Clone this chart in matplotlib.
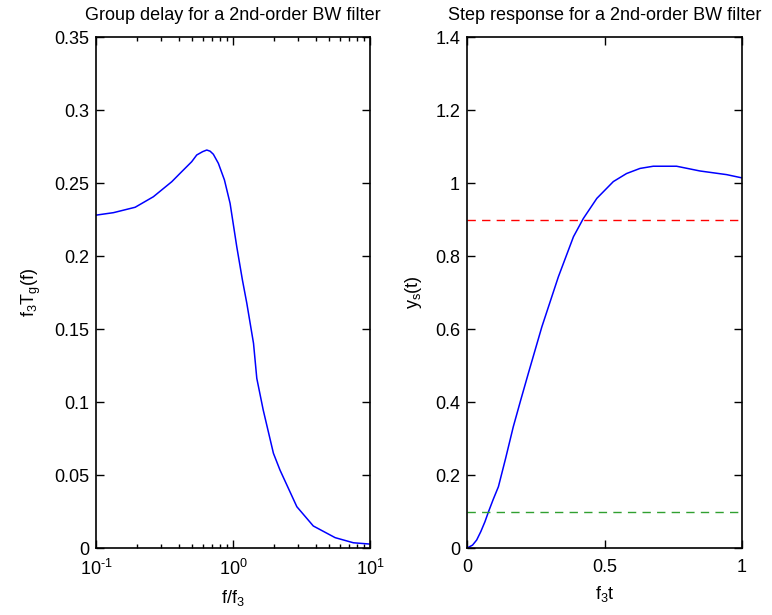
import numpy as np
import matplotlib
matplotlib.use("Agg")
import matplotlib.pyplot as plt
from matplotlib.ticker import LogLocator, NullFormatter

plt.rcParams['font.family'] = ['Liberation Sans', 'DejaVu Sans']
plt.rcParams['mathtext.fontset'] = 'custom'
plt.rcParams['mathtext.rm'] = 'Liberation Sans'
plt.rcParams['mathtext.it'] = 'Liberation Sans'
plt.rcParams['font.size'] = 13

# group delay
f_ratio = [0.1, 0.134, 0.193, 0.262, 0.357, 0.41, 0.499, 0.543, 0.60, 0.643, 0.68, 0.718,
           0.781, 0.865, 0.951, 1.064, 1.17, 1.26, 1.41, 1.49, 1.66, 1.97,
           2.20, 2.92, 3.85, 5.56, 7.55, 10.0]
group_delay = [0.228, 0.2297, 0.2334, 0.2406, 0.2509, 0.2566, 0.2646, 0.2692, 0.2715, 0.2726, 0.2718, 0.2697,
               0.2635, 0.2521, 0.2361, 0.2064, 0.1836, 0.1676, 0.1402, 0.1162, 0.0945, 0.0649,
               0.0534, 0.0283, 0.0151, 0.0071, 0.0036, 0.0027]

# step response
t_norm = [0.0, 0.02, 0.035, 0.05, 0.065, 0.078, 0.095, 0.114, 0.14, 0.168, 0.195, 0.223, 0.272,
          0.332, 0.387, 0.423, 0.472, 0.532, 0.58, 0.629, 0.677, 0.762, 0.847, 0.944, 1.0]
step_resp = [0.0, 0.008, 0.022, 0.045, 0.072, 0.0995, 0.133, 0.168, 0.245, 0.332, 0.405, 0.479, 0.606,
             0.743, 0.853, 0.903, 0.958, 1.004, 1.026, 1.040, 1.046, 1.046, 1.033, 1.023, 1.014]
upper_level = 0.9
lower_level = 0.1

fig = plt.figure(figsize=(7.72, 6.15), dpi=100)

ax1 = fig.add_axes([0.1244, 0.1089, 0.355, 0.8309])
ax1.semilogx(f_ratio, group_delay, color='b', lw=1.1)
ax1.set_xlim(0.1, 10)
ax1.set_ylim(0, 0.35)
ax1.set_yticks([0, 0.05, 0.1, 0.15, 0.2, 0.25, 0.3, 0.35])
ax1.set_yticklabels(['0', '0.05', '0.1', '0.15', '0.2', '0.25', '0.3', '0.35'])
ax1.set_xticks([0.1, 1, 10])
ax1.set_xticklabels(['10$^{\u2010\\mathregular{1}}$', r'10$^{\mathregular{0}}$', r'10$^{\mathregular{1}}$'])
ax1.xaxis.set_minor_locator(LogLocator(base=10, subs=np.arange(2, 10), numticks=10))
ax1.xaxis.set_minor_formatter(NullFormatter())
ax1.set_xlabel(r'f/f$_3$', labelpad=6)
ax1.set_ylabel(r'f$_3$T$_g$(f)', labelpad=8)
ax1.set_title('Group delay for a 2nd-order BW filter', fontsize=13, pad=12)

ax2 = fig.add_axes([0.605, 0.1089, 0.3562, 0.8309])
ax2.plot(t_norm, step_resp, color='b', lw=1.1)
ax2.plot([0, 1], [upper_level, upper_level], color='r', ls=(0, (6, 4.5)), lw=1.0)
ax2.plot([0, 1], [lower_level, lower_level], color='#30a030', ls=(0, (6, 4.5)), lw=1.0)
ax2.set_xlim(0, 1)
ax2.set_ylim(0, 1.4)
ax2.set_xticks([0, 0.5, 1])
ax2.set_xticklabels(['0', '0.5', '1'])
ax2.set_yticks([0, 0.2, 0.4, 0.6, 0.8, 1.0, 1.2, 1.4])
ax2.set_yticklabels(['0', '0.2', '0.4', '0.6', '0.8', '1', '1.2', '1.4'])
ax2.set_xlabel(r'f$_3$t', labelpad=6)
ax2.set_ylabel(r'y$_s$(t)', labelpad=8)
ax2.set_title('Step response for a 2nd-order BW filter', fontsize=13, pad=12)

for ax in (ax1, ax2):
    ax.tick_params(which='both', direction='in', top=True, right=True, width=1)
    ax.tick_params(axis='y', which='major', length=6, pad=5)
    ax.tick_params(axis='x', which='major', length=6, pad=8)
    ax.tick_params(which='minor', length=3)
    for s in ax.spines.values():
        s.set_linewidth(1.2)

fig.savefig('out.png', dpi=100)
